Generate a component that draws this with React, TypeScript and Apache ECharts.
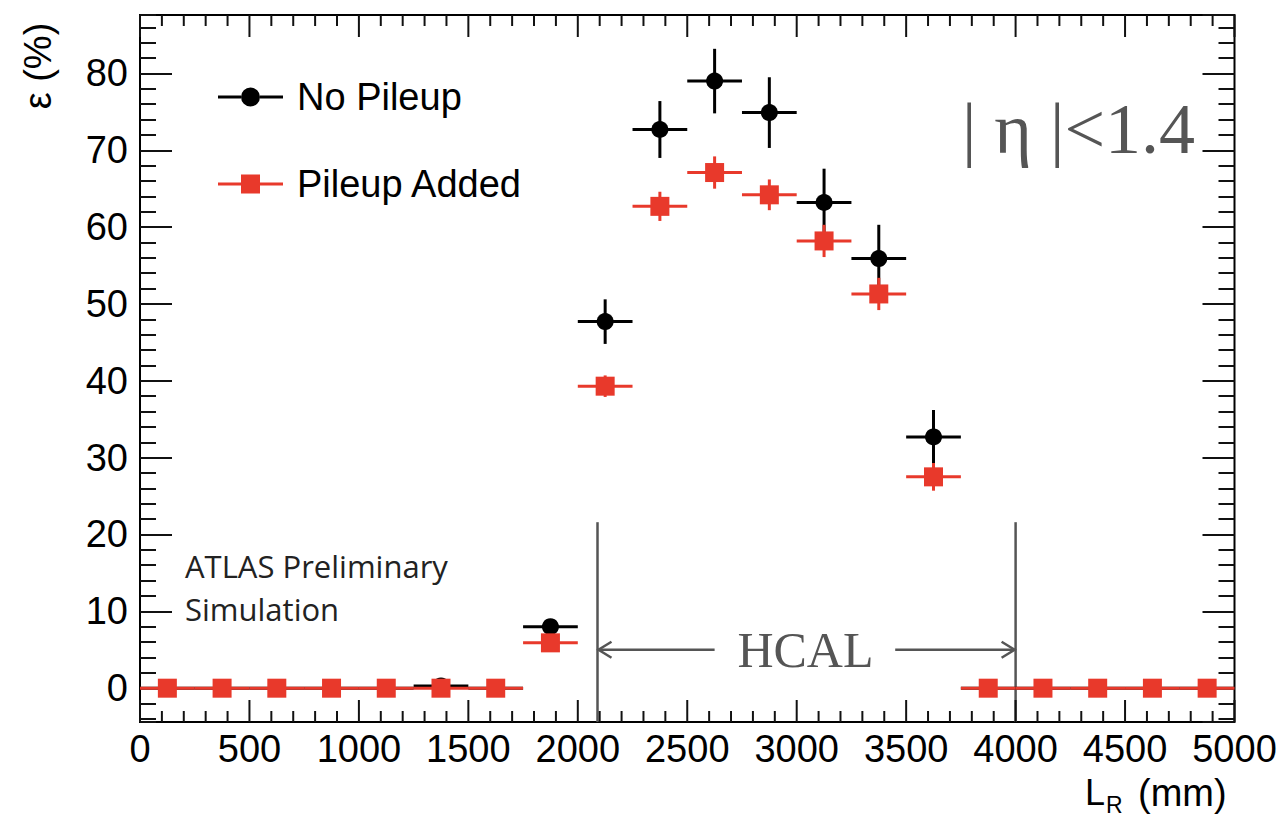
import React, { useEffect, useRef } from "react";
import * as echarts from "echarts";

// ---- data ----
const binCenters = [125, 375, 625, 875, 1125, 1375, 1625, 1875, 2125, 2375, 2625, 2875, 3125, 3375, 3625, 3875, 4125, 4375, 4625, 4875];
const binHalfWidth = 125;
const noPileup = [0, 0, 0, 0, 0, 0.3, 0, 8.0, 47.7, 72.7, 79.0, 74.9, 63.2, 55.9, 32.7, 0, 0, 0, 0, 0];
const noPileupErr = [0, 0, 0, 0, 0, 0.3, 0, 0.9, 2.9, 3.7, 4.2, 4.6, 4.4, 4.4, 3.5, 0, 0, 0, 0, 0];
const pileupAdded = [0, 0, 0, 0, 0, 0, 0, 5.9, 39.3, 62.7, 67.1, 64.2, 58.2, 51.3, 27.5, 0, 0, 0, 0, 0];
const pileupAddedErr = [0, 0, 0, 0, 0, 0, 0, 0.9, 1.4, 1.9, 2.1, 2.0, 2.1, 2.1, 1.8, 0, 0, 0, 0, 0];

const xMin = 0;
const xMax = 5000;
const xStep = 500;
const xMajorTicks = [0, 500, 1000, 1500, 2000, 2500, 3000, 3500, 4000, 4500, 5000];
const xMinorTicks = [
  100, 200, 300, 400, 600, 700, 800, 900, 1100, 1200, 1300, 1400, 1600, 1700, 1800, 1900,
  2100, 2200, 2300, 2400, 2600, 2700, 2800, 2900, 3100, 3200, 3300, 3400, 3600, 3700, 3800, 3900,
  4100, 4200, 4300, 4400, 4600, 4700, 4800, 4900,
];
const yMin = -4.4;
const yMax = 87.6;
const yStep = 10;
const yMinorStep = 2;

const hcalEdges = [2090, 4000];
const hcalLineTop = 21.6;
const hcalArrowY = 5;
const hcalArrowTails = [2625, 3450];
const hcalLabelX = 3040;

const seriesNames = ["No Pileup", "Pileup Added"];

const SANS = '"Liberation Sans", Arial, Helvetica, sans-serif';
const SERIF = '"Liberation Serif", "Times New Roman", serif';
const BLACK = "#000000";
const RED = "#e8392b";
const GREY = "#555555";
const TICK = "#111111";

const blackIcon =
  "path://M0,8.5 L23,8.5 L23,11.5 L0,11.5 Z M42,8.5 L65,8.5 L65,11.5 L42,11.5 Z M23,10 A9.5,9.5 0 1 0 42,10 A9.5,9.5 0 1 0 23,10 Z";
const redIcon =
  "path://M0,8.5 L23,8.5 L23,11.5 L0,11.5 Z M42,8.5 L65,8.5 L65,11.5 L42,11.5 Z M23,0.5 L42,0.5 L42,19.5 L23,19.5 Z";

function pointRenderer(kind: "circle" | "square") {
  return (params: any, api: any) => {
    const x = api.value(0);
    const y = api.value(1);
    const e = api.value(2);
    const c = api.coord([x, y]);
    const l = api.coord([x - binHalfWidth, y]);
    const r = api.coord([x + binHalfWidth, y]);
    const t = api.coord([x, y + e]);
    const b = api.coord([x, y - e]);
    const color = kind === "circle" ? BLACK : RED;
    const children: any[] = [
      {
        type: "line",
        shape: { x1: l[0], y1: c[1], x2: r[0], y2: c[1] },
        style: { stroke: color, lineWidth: 3 },
      },
    ];
    if (e > 0) {
      children.push({
        type: "line",
        shape: { x1: c[0], y1: t[1], x2: c[0], y2: b[1] },
        style: { stroke: color, lineWidth: 3 },
      });
    }
    if (kind === "circle") {
      children.push({ type: "circle", shape: { cx: c[0], cy: c[1], r: 8.5 }, style: { fill: color } });
    } else {
      children.push({
        type: "rect",
        shape: { x: c[0] - 9.5, y: c[1] - 9.5, width: 19, height: 19 },
        style: { fill: color },
      });
    }
    return { type: "group", children };
  };
}

// one x-axis tick per data item, on the bottom and top frame edges (value, row, is-major)
function xTickRenderer(params: any, api: any) {
  const v = api.value(0);
  const major = api.value(2) > 0;
  const len = major ? 22 : 11;
  const b = api.coord([v, yMin]);
  const t = api.coord([v, yMax]);
  return {
    type: "group",
    children: [
      {
        type: "line",
        shape: { x1: b[0], y1: b[1], x2: b[0], y2: b[1] - len },
        style: { stroke: TICK, lineWidth: 2 },
      },
      {
        type: "line",
        shape: { x1: t[0], y1: t[1], x2: t[0], y2: t[1] + len },
        style: { stroke: TICK, lineWidth: 2 },
      },
    ],
  };
}

function annotationRenderer(params: any, api: any) {
  const children: any[] = [];
  const stroke = { stroke: GREY, lineWidth: 2.5 };
  hcalEdges.forEach((xe) => {
    const top = api.coord([xe, hcalLineTop]);
    const bot = api.coord([xe, yMin]);
    children.push({ type: "line", shape: { x1: top[0], y1: top[1], x2: bot[0], y2: bot[1] }, style: stroke });
  });
  const lTip = api.coord([hcalEdges[0], hcalArrowY]);
  const lTail = api.coord([hcalArrowTails[0], hcalArrowY]);
  children.push({ type: "line", shape: { x1: lTail[0], y1: lTail[1], x2: lTip[0], y2: lTip[1] }, style: stroke });
  children.push({
    type: "polyline",
    shape: { points: [[lTip[0] + 14, lTip[1] - 8], [lTip[0] + 1, lTip[1]], [lTip[0] + 14, lTip[1] + 8]] },
    style: { ...stroke, fill: null },
  });
  const rTip = api.coord([hcalEdges[1], hcalArrowY]);
  const rTail = api.coord([hcalArrowTails[1], hcalArrowY]);
  children.push({ type: "line", shape: { x1: rTail[0], y1: rTail[1], x2: rTip[0], y2: rTip[1] }, style: stroke });
  children.push({
    type: "polyline",
    shape: { points: [[rTip[0] - 14, rTip[1] - 8], [rTip[0] - 1, rTip[1]], [rTip[0] - 14, rTip[1] + 8]] },
    style: { ...stroke, fill: null },
  });
  const lab = api.coord([hcalLabelX, hcalArrowY]);
  children.push({
    type: "text",
    x: lab[0],
    y: lab[1],
    style: {
      text: "HCAL",
      fontSize: 50,
      fontFamily: SERIF,
      fill: GREY,
      align: "center",
      verticalAlign: "middle",
    },
  });
  return { type: "group", children };
}

const tickStyle = { color: TICK, width: 2 };

export default function App() {
  const ref = useRef<HTMLDivElement>(null);

  useEffect(() => {
    if (!ref.current) return;
    const chart = echarts.init(ref.current, null, { renderer: "svg" });

    const yMajorBase = {
      type: "value",
      min: yMin,
      max: yMax,
      minInterval: yStep,
      maxInterval: yStep,
      axisLine: { show: false, onZero: false },
      splitLine: { show: false },
      axisTick: { show: true, inside: true, length: 32, lineStyle: tickStyle },
    };
    const yMinorBase = {
      type: "value",
      min: yMin,
      max: yMax,
      minInterval: yMinorStep,
      maxInterval: yMinorStep,
      axisLine: { show: false, onZero: false },
      splitLine: { show: false },
      axisLabel: { show: false },
      axisTick: { show: true, inside: true, length: 16, lineStyle: tickStyle },
    };

    const tickData = [
      ...xMajorTicks.map((v) => [v, 40, 1]),
      ...xMinorTicks.map((v) => [v, 40, 0]),
    ];

    const option: any = {
      animation: false,
      backgroundColor: "#ffffff",
      grid: {
        left: 140,
        top: 15,
        right: 53.5,
        bottom: 95,
        show: true,
        borderColor: "#000",
        borderWidth: 2,
        backgroundColor: "transparent",
        containLabel: false,
      },
      xAxis: {
        type: "value",
        min: xMin,
        max: xMax,
        interval: xStep,
        position: "bottom",
        axisLine: { show: false, onZero: false },
        splitLine: { show: false },
        axisTick: { show: false },
        axisLabel: {
          show: true,
          fontSize: 38,
          fontFamily: SANS,
          color: "#000",
          margin: 8,
          formatter: (v: number) => String(v),
        },
      },
      yAxis: [
        {
          ...yMajorBase,
          position: "left",
          axisLabel: {
            show: true,
            fontSize: 38,
            fontFamily: SANS,
            color: "#000",
            margin: 12,
            showMinLabel: false,
            showMaxLabel: false,
            formatter: (v: number) => (Math.abs(v / yStep - Math.round(v / yStep)) < 1e-6 ? String(Math.round(v)) : ""),
          },
        },
        { ...yMinorBase, position: "left" },
        { ...yMajorBase, position: "right", axisLabel: { show: false } },
        { ...yMinorBase, position: "right" },
      ],
      legend: {
        orient: "vertical",
        left: 213,
        top: 72,
        itemWidth: 65,
        itemHeight: 19,
        itemGap: 47,
        selectedMode: false,
        textStyle: { fontSize: 38, fontFamily: SANS, color: "#000", lineHeight: 40, padding: [0, 0, 0, 9] },
        data: [
          { name: seriesNames[0], icon: blackIcon, itemStyle: { color: BLACK } },
          { name: seriesNames[1], icon: redIcon, itemStyle: { color: RED } },
        ],
      },
      graphic: [
        {
          type: "text",
          x: 38,
          y: 66,
          rotation: Math.PI / 2,
          style: {
            text: "ε (%)",
            fontSize: 38,
            fontFamily: SANS,
            fill: "#000",
            align: "center",
            verticalAlign: "middle",
          },
        },
        {
          type: "text",
          x: 1085,
          y: 792,
          style: { text: "L", fontSize: 36, fontFamily: SANS, fill: "#000", align: "left", verticalAlign: "middle" },
        },
        {
          type: "text",
          x: 1106,
          y: 805,
          style: { text: "R", fontSize: 23, fontFamily: SANS, fill: "#000", align: "left", verticalAlign: "middle" },
        },
        {
          type: "text",
          x: 1138,
          y: 793,
          style: { text: "(mm)", fontSize: 38, fontFamily: SANS, fill: "#000", align: "left", verticalAlign: "middle" },
        },
        {
          type: "text",
          x: 185,
          y: 566,
          style: {
            text: "ATLAS Preliminary",
            fontSize: 31,
            fontFamily: '"Open Sans", "DejaVu Sans", sans-serif',
            fill: "#222",
            align: "left",
            verticalAlign: "middle",
          },
        },
        {
          type: "text",
          x: 185,
          y: 609,
          style: {
            text: "Simulation",
            fontSize: 31,
            fontFamily: '"Open Sans", "DejaVu Sans", sans-serif',
            fill: "#222",
            align: "left",
            verticalAlign: "middle",
          },
        },
        {
          type: "text",
          x: 1195,
          y: 129,
          style: {
            text: "| η |<1.4",
            fontSize: 72,
            fontFamily: SERIF,
            fill: GREY,
            align: "right",
            verticalAlign: "middle",
          },
        },
      ],
      series: [
        {
          type: "custom",
          name: "annotations",
          xAxisIndex: 0,
          yAxisIndex: 0,
          silent: true,
          clip: false,
          renderItem: annotationRenderer,
          encode: { x: 0, y: 1 },
          data: [[hcalEdges[0], hcalArrowY]],
          z: 1,
        },
        {
          type: "custom",
          name: seriesNames[0],
          xAxisIndex: 0,
          yAxisIndex: 0,
          clip: false,
          itemStyle: { color: BLACK },
          renderItem: pointRenderer("circle"),
          encode: { x: 0, y: 1 },
          data: binCenters.map((c, i) => [c, noPileup[i], noPileupErr[i]]),
          z: 2,
        },
        {
          type: "custom",
          name: seriesNames[1],
          xAxisIndex: 0,
          yAxisIndex: 0,
          clip: false,
          itemStyle: { color: RED },
          renderItem: pointRenderer("square"),
          encode: { x: 0, y: 1 },
          data: binCenters.map((c, i) => [c, pileupAdded[i], pileupAddedErr[i]]),
          z: 3,
        },
        {
          type: "custom",
          name: "frame ticks",
          xAxisIndex: 0,
          yAxisIndex: 0,
          silent: true,
          clip: false,
          itemStyle: { color: TICK },
          renderItem: xTickRenderer,
          encode: { x: 0, y: 1 },
          data: tickData,
          z: 4,
        },
      ],
    };

    chart.setOption(option);
    return () => {
      chart.dispose();
    };
  }, []);

  return (
    <div
      ref={ref}
      style={{ position: "fixed", left: 0, top: 0, width: 1288, height: 817, background: "#fff" }}
    />
  );
}
